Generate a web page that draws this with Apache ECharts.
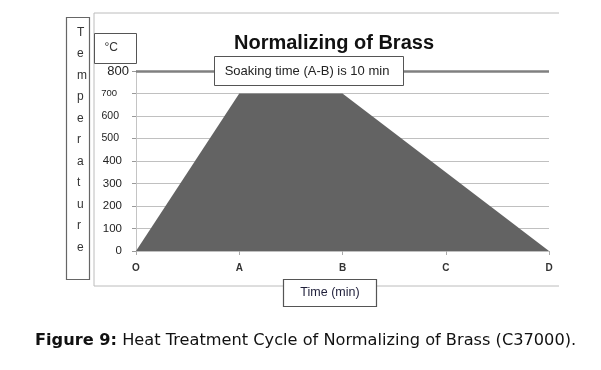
<!DOCTYPE html>
<html>
<head>
<meta charset="utf-8">
<script src="https://cdn.jsdelivr.net/npm/echarts@6/dist/echarts.min.js"></script>
<style>
html,body{margin:0;padding:0;background:#fff;}
#c{width:601px;height:370px;}
</style>
</head>
<body>
<div id="c"></div>
<script>
// ---- data ----
var categories = ['O', 'A', 'B', 'C', 'D'];
var temperatures = [0, 700, 700, 350, 0];
var soakingLevel = 800;
var yMin = 0, yMax = 800, yStep = 100;
var titleText = 'Normalizing of Brass';
var soakingText = 'Soaking time (A-B) is 10 min';
var xAxisName = 'Time (min)';
var yAxisName = 'Temperature';
var unitText = '°C';
var captionBold = 'Figure 9:';
var captionRest = ' Heat Treatment Cycle of Normalizing of Brass (C37000).';

var FONT = '"Liberation Sans", Arial, sans-serif';
var CFONT = '"DejaVu Sans", Verdana, sans-serif';
var chart = echarts.init(document.getElementById('c'), null, {renderer: 'canvas'});

var graphics = [];
// outer frame (top, left, bottom)
graphics.push({type:'line', shape:{x1:94,y1:13,x2:559,y2:13}, style:{stroke:'#bcbcbc',lineWidth:1}, z:1});
graphics.push({type:'line', shape:{x1:94,y1:13,x2:94,y2:286}, style:{stroke:'#bcbcbc',lineWidth:1}, z:1});
graphics.push({type:'line', shape:{x1:94,y1:286,x2:559,y2:286}, style:{stroke:'#bcbcbc',lineWidth:1}, z:1});
// temperature box
graphics.push({type:'rect', shape:{x:66.5,y:17.5,width:23,height:262}, style:{fill:'none',stroke:'#666',lineWidth:1.2}, z:2});
var letters = yAxisName.split('');
letters.forEach(function(ch, i){
  graphics.push({type:'text', x:77, y:32.5 + i*21.5, style:{text:ch, font:'12px '+FONT, fill:'#333', textAlign:'left', textVerticalAlign:'middle'}, z:3});
});
// unit box
graphics.push({type:'rect', shape:{x:94.5,y:33.5,width:42,height:30}, style:{fill:'#fff',stroke:'#555',lineWidth:1}, z:5});
graphics.push({type:'text', x:104.5, y:48, style:{text:unitText, font:'12px '+FONT, fill:'#333', textAlign:'left', textVerticalAlign:'middle'}, z:6});
// soaking label box
graphics.push({type:'rect', shape:{x:214.5,y:56.5,width:189,height:29}, style:{fill:'#fff',stroke:'#555',lineWidth:1}, z:20});
graphics.push({type:'text', x:307, y:71, style:{text:soakingText, font:'13px '+FONT, fill:'#222', textAlign:'center', textVerticalAlign:'middle'}, z:21});
// x axis name box
graphics.push({type:'rect', shape:{x:283.5,y:279.5,width:93,height:27}, style:{fill:'#fff',stroke:'#555',lineWidth:1.2}, z:20});
graphics.push({type:'text', x:330, y:293, style:{text:xAxisName, font:'12.5px '+FONT, fill:'#1f1f3a', textAlign:'center', textVerticalAlign:'middle'}, z:21});
// caption
graphics.push({type:'text', x:35, y:341, style:{
  rich:{b:{font:'bold 16.2px '+CFONT, fill:'#111'}, n:{font:'16.2px '+CFONT, fill:'#111'}},
  text:'{b|'+captionBold+'}{n|'+captionRest+'}', textVerticalAlign:'middle', textAlign:'left'}, z:3});

function yLabelStyle(v){
  if (v === 800) return 's800';
  if (v === 700) return 's700';
  if (v === 600 || v === 500) return 's600';
  return 'sn';
}

chart.setOption({
  animation:false,
  backgroundColor:'#fff',
  title:{text:titleText, left:329, top:28, textAlign:'center',
    textStyle:{fontFamily:FONT, fontWeight:'bold', fontSize:20, color:'#111'}},
  grid:{left:136, right:52, top:71, bottom:119, containLabel:false},
  xAxis:{type:'category', data:categories, boundaryGap:false,
    axisLine:{show:true, lineStyle:{color:'#bfbfbf', width:1}},
    axisTick:{show:true, length:4, lineStyle:{color:'#aaa'}},
    axisLabel:{margin:12, fontFamily:FONT, fontSize:10, fontWeight:'bold', color:'#333'},
    splitLine:{show:false}},
  yAxis:{type:'value', min:yMin, max:yMax, interval:yStep,
    axisLine:{show:true, lineStyle:{color:'#c4c4c4', width:1}},
    axisTick:{show:true, length:4, lineStyle:{color:'#999'}},
    splitLine:{show:true, lineStyle:{color:'#c0c0c0', width:1}},
    axisLabel:{margin:7, fontFamily:FONT, color:'#222',
      formatter:function(v){ return '{'+yLabelStyle(v)+'|'+v+'}'; },
      rich:{
        s800:{fontSize:13, fontFamily:FONT, color:'#222'},
        s700:{fontSize:9.5, fontFamily:FONT, color:'#222', padding:[0,12,0,0]},
        s600:{fontSize:10.5, fontFamily:FONT, color:'#222', padding:[0,10,0,0]},
        sn:{fontSize:11.5, fontFamily:FONT, color:'#222', padding:[0,7,0,0]}
      }}},
  series:[{
    type:'line', data:temperatures, symbol:'none', smooth:false,
    lineStyle:{width:0, color:'#636363'},
    areaStyle:{color:'#636363', opacity:1},
    z:3,
    markLine:{silent:true, symbol:'none', label:{show:false},
      lineStyle:{color:'#808080', width:2.5, type:'solid'},
      data:[{yAxis:soakingLevel}]}
  }],
  graphic:graphics
});
</script>
</body>
</html>
